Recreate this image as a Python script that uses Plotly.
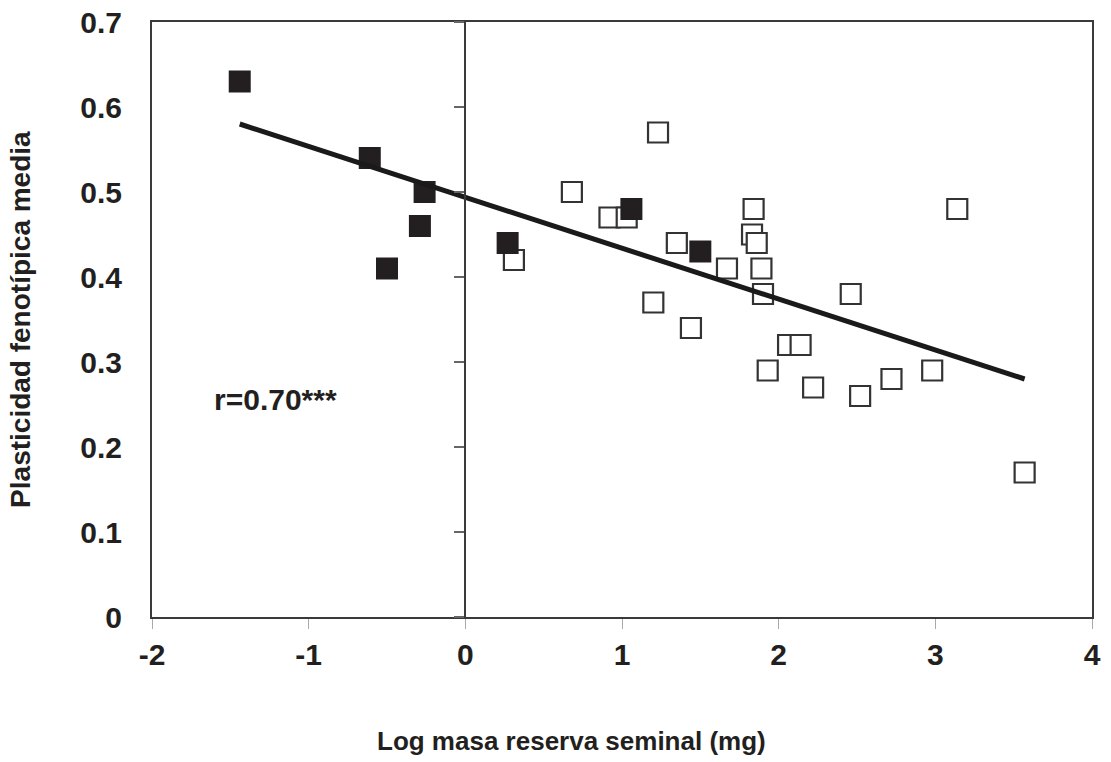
import plotly.graph_objects as go

# Filled squares
filled_x = [-1.44, -0.61, -0.26, -0.29, -0.50, 0.27, 1.06, 1.50]
filled_y = [0.63, 0.54, 0.50, 0.46, 0.41, 0.44, 0.48, 0.43]

# Open squares
open_x = [0.31, 0.68, 1.23, 0.92, 1.03, 1.35, 1.67, 1.20, 1.44, 1.84, 1.83, 1.86,
          1.89, 1.90, 2.06, 2.14, 1.93, 2.22, 3.14, 2.46, 2.98, 2.72, 2.52, 3.57]
open_y = [0.42, 0.50, 0.57, 0.47, 0.47, 0.44, 0.41, 0.37, 0.34, 0.48, 0.45, 0.44,
          0.41, 0.38, 0.32, 0.32, 0.29, 0.27, 0.48, 0.38, 0.29, 0.28, 0.26, 0.17]

# Regression line endpoints
fit_x = [-1.44, 3.57]
fit_y = [0.58, 0.28]

x_ticks = [-2, -1, 0, 1, 2, 3, 4]
y_ticks = [0, 0.1, 0.2, 0.3, 0.4, 0.5, 0.6, 0.7]
y_ticklabels = ["0", "0.1", "0.2", "0.3", "0.4", "0.5", "0.6", "0.7"]

FONT = "Liberation Sans, Arial, sans-serif"
INK = "#231f20"

fig = go.Figure()
fig.add_trace(go.Scatter(
    x=open_x, y=open_y, mode="markers",
    marker=dict(symbol="square", size=20, color="white",
                line=dict(color="#333333", width=2.2)),
    showlegend=False, hoverinfo="skip"))
fig.add_trace(go.Scatter(
    x=fit_x, y=fit_y, mode="lines", yaxis="y2",
    line=dict(color="#1a1a1a", width=5), showlegend=False, hoverinfo="skip"))
fig.add_trace(go.Scatter(
    x=filled_x, y=filled_y, mode="markers",
    marker=dict(symbol="square", size=22, color=INK, line=dict(width=0)),
    showlegend=False, hoverinfo="skip"))

tick_font = dict(family=FONT, size=30, color=INK, weight="bold")

fig.update_layout(
    width=1111, height=762,
    margin=dict(l=152, r=19, t=22, b=145),
    plot_bgcolor="white", paper_bgcolor="white",
    font=dict(family=FONT, color=INK),
    xaxis=dict(
        range=[-2, 4], tickvals=x_ticks, ticktext=[str(v) for v in x_ticks],
        showgrid=False, zeroline=False, automargin=False,
        showline=True, linecolor="#3a3a3a", linewidth=2, mirror=True,
        ticks="outside", ticklen=10, tickwidth=1, tickcolor="#aaaaaa",
        tickfont=tick_font,
    ),
    yaxis=dict(
        range=[0, 0.7], tickvals=y_ticks, ticktext=y_ticklabels,
        showgrid=False, zeroline=False, automargin=False,
        showline=True, linecolor="#3a3a3a", linewidth=2, mirror=True,
        ticks="", ticklabelstandoff=22,
        tickfont=tick_font,
    ),
    yaxis2=dict(
        range=[0, 0.7], tickvals=y_ticks, overlaying="y", anchor="free",
        position=1/3, side="left", automargin=False,
        showgrid=False, zeroline=False, showticklabels=False,
        showline=True, linecolor="#3a3a3a", linewidth=2,
        ticks="outside", ticklen=10, tickwidth=2, tickcolor="#666666",
    ),
    annotations=[
        dict(text="<b>r=0.70***</b>", x=0.064, y=0.365, xref="paper", yref="paper",
             xanchor="left", yanchor="middle", showarrow=False,
             font=dict(family=FONT, size=30, color=INK)),
        dict(text="<b>Log masa reserva seminal (mg)</b>", x=0.446, y=-0.208,
             xref="paper", yref="paper", xanchor="center", yanchor="middle",
             showarrow=False, font=dict(family=FONT, size=26, color=INK)),
        dict(text="<b>Plasticidad fenotípica media</b>", x=-0.14, y=0.5,
             xref="paper", yref="paper", xanchor="center", yanchor="middle",
             textangle=-90, showarrow=False,
             font=dict(family=FONT, size=28, color=INK)),
    ],
)

fig.write_html("out.html")
